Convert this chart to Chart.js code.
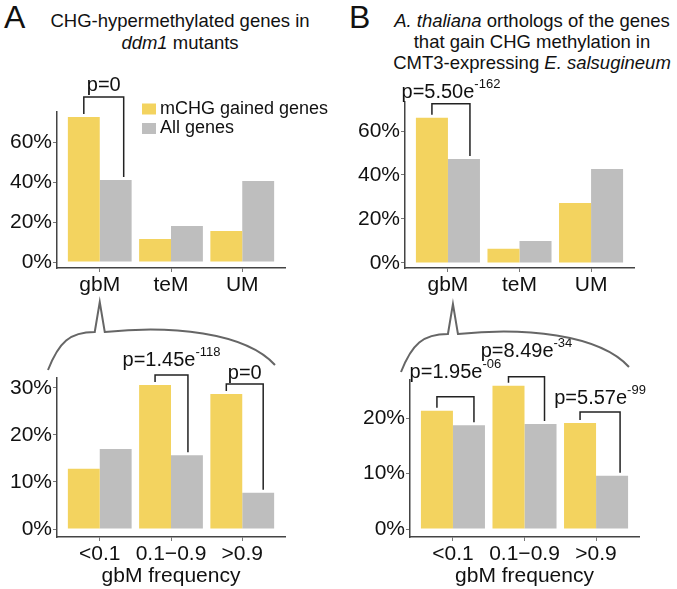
<!DOCTYPE html>
<html>
<head>
<meta charset="utf-8">
<script src="https://cdn.jsdelivr.net/npm/chart.js@4.4.1/dist/chart.umd.min.js"></script>
<style>
  body { margin: 0; background: #fff; font-family: "Liberation Sans", Arial, sans-serif; }
  #wrap { position: relative; width: 677px; height: 589px; overflow: hidden; }
  canvas { position: absolute; }
  .letter { position: absolute; font-size: 32px; line-height: 32px; color: #111; }
  .title { position: absolute; width: 300px; text-align: center; font-size: 18.5px; color: #111; }
</style>
</head>
<body>
<div id="wrap">
  <div class="letter" style="left:4px; top:1px;">A</div>
  <div class="letter" style="left:349px; top:1px;">B</div>
  <div class="title" style="left:30px; top:10px; line-height:22px;">CHG-hypermethylated genes in<br><i>ddm1</i> mutants</div>
  <div class="title" style="left:382px; top:10px; line-height:21px; width:300px;"><i>A. thaliana</i> orthologs of the genes<br>that gain CHG methylation in<br>CMT3-expressing <i>E. salsugineum</i></div>
  <canvas id="aTop" width="337" height="230" style="left:0; top:70px;"></canvas>
  <canvas id="bTop" width="337" height="230" style="left:340px; top:70px;"></canvas>
  <canvas id="aBot" width="300" height="294" style="left:0; top:295px;"></canvas>
  <canvas id="bBot" width="337" height="294" style="left:340px; top:295px;"></canvas>
</div>
<script>
// categories
const methCats = ["gbM", "teM", "UM"];
const freqCats = ["<0.1", "0.1\u22120.9", ">0.9"];
const seriesNames = ["mCHG gained genes", "All genes"];

// A: ddm1 mutants (percent)
const ddm1Gained = [72.5, 11.5, 15.5];
const ddm1All = [41.0, 18.0, 40.5];
const ddm1FreqGained = [12.8, 30.6, 28.7];
const ddm1FreqAll = [17.0, 15.7, 7.7];

// B: CMT3-expressing E. salsugineum orthologs (percent)
const esalGained = [66.0, 6.4, 27.3];
const esalAll = [47.3, 10.0, 42.7];
const esalFreqGained = [21.3, 25.8, 19.1];
const esalFreqAll = [18.7, 18.9, 9.6];

// tick labels
const topTicks = [0, 20, 40, 60];
const ddm1FreqTicks = [0, 10, 20, 30];
const esalFreqTicks = [0, 10, 20];

// p-values: [category index, text, superscript]
const ddm1P = [[0, "p=0", ""]];
const ddm1FreqP = [[1, "p=1.45e", "-118"], [2, "p=0", ""]];
const esalP = [[0, "p=5.50e", "-162"]];
const esalFreqP = [[0, "p=1.95e", "-06"], [1, "p=8.49e", "-34"], [2, "p=5.57e", "-99"]];

const YELLOW = "#F3D35F";
const GREY = "#BEBEBE";
const FONT = "'Liberation Sans', Arial, sans-serif";

function drawP(ctx, base, sup, cx, cy) {
    ctx.save();
    ctx.fillStyle = "#111";
    ctx.textBaseline = "middle";
    ctx.textAlign = "left";
    ctx.font = "20px " + FONT;
    const wb = ctx.measureText(base).width;
    ctx.font = "13px " + FONT;
    const ws = sup ? ctx.measureText(sup).width : 0;
    const x0 = cx - (wb + ws) / 2;
    ctx.font = "20px " + FONT;
    ctx.fillText(base, x0, cy);
    if (sup) {
        ctx.font = "13px " + FONT;
        ctx.fillText(sup, x0 + wb, cy - 8);
    }
    ctx.restore();
}

// bracket styling per panel (px)
const bracketStyle = {
    aTop: [{ gap: 20, textGap: 12, shift: 8 }],
    aBot: [{ gap: 10, textGap: 15, shift: 1 }, { gap: 10, textGap: 11, shift: 5 }],
    bTop: [{ gap: 14, textGap: 11, shift: 6 }],
    bBot: [{ gap: 14, textGap: 24, shift: 5 }, { gap: 9, textGap: 25, shift: 4 }, { gap: 11, textGap: 14, shift: 8 }]
};

const bracketPlugin = {
    id: "brackets",
    afterDatasetsDraw(chart, args, opts) {
        const ctx = chart.ctx;
        const m0 = chart.getDatasetMeta(0).data;
        const m1 = chart.getDatasetMeta(1).data;
        (opts.list || []).forEach((p, k) => {
            const st = opts.style[k];
            const i = p[0];
            const xl = m0[i].x, xr = m1[i].x + st.shift;
            const top = m0[i].y - st.gap;
            ctx.save();
            ctx.strokeStyle = "#222";
            ctx.lineWidth = 1.5;
            ctx.beginPath();
            ctx.moveTo(xl, m0[i].y - 3);
            ctx.lineTo(xl, top);
            ctx.lineTo(xr, top);
            ctx.lineTo(xr, m1[i].y - 3);
            ctx.stroke();
            ctx.restore();
            drawP(ctx, p[1], p[2], (xl + xr) / 2, top - st.textGap);
        });
    }
};

const bracePlugin = {
    id: "brace",
    afterDraw(chart, args, opts) {
        if (!opts.show) return;
        const ctx = chart.ctx;
        const a = chart.chartArea;
        const px = chart.scales.x.getPixelForValue(0);
        const L = a.left, R = a.right, T = a.top;
        ctx.save();
        ctx.strokeStyle = "#666";
        ctx.lineWidth = 2;
        ctx.beginPath();
        ctx.moveTo(L - 9, T - 8);
        ctx.bezierCurveTo(L + 2, T - 36, px - 30, T - 46, px - 5, T - 46);
        ctx.lineTo(px, T - 76);
        ctx.lineTo(px + 5, T - 46);
        ctx.bezierCurveTo(px + 70, T - 53, R - 40, T - 46, R - 10, T - 13);
        ctx.stroke();
        ctx.restore();
    }
};

const legendPlugin = {
    id: "boxLegend",
    afterDraw(chart, args, opts) {
        if (!opts.show) return;
        const ctx = chart.ctx;
        const ds = chart.data.datasets;
        ctx.save();
        ctx.font = "18px " + FONT;
        ctx.textBaseline = "middle";
        ds.forEach((d, k) => {
            const y = opts.y + k * 19.5;
            ctx.fillStyle = d.backgroundColor;
            ctx.fillRect(opts.x, y - 5.5, 14, 11);
            ctx.fillStyle = "#111";
            ctx.fillText(d.label, opts.x + 18, y);
        });
        ctx.restore();
    }
};

function makePanel(id, box, area, cats, gained, all, ticks, yMin, yMax, pList, extra) {
    const tickFont = { family: FONT, size: 21 };
    new Chart(document.getElementById(id), {
        type: "bar",
        data: {
            datasets: [
                { label: seriesNames[0], data: gained.map((v, i) => ({ x: i, y: v })), backgroundColor: YELLOW },
                { label: seriesNames[1], data: all.map((v, i) => ({ x: i, y: v })), backgroundColor: GREY }
            ]
        },
        options: {
            responsive: false,
            animation: false,
            devicePixelRatio: 1,
            categoryPercentage: 0.895,
            barPercentage: 1.0,
            layout: { padding: { left: 0, top: area.top - box.top, right: box.left + box.w - area.right, bottom: 0 } },
            plugins: {
                legend: { display: false },
                tooltip: { enabled: false },
                brackets: { list: pList, style: bracketStyle[id] },
                brace: { show: !!extra.brace },
                boxLegend: { show: !!extra.legend, x: 142, y: 39 }
            },
            scales: {
                x: {
                    type: "linear",
                    offset: false,
                    min: -0.6,
                    max: 2.6,
                    afterBuildTicks: (s) => { s.ticks = cats.map((c, i) => ({ value: i })); },
                    afterFit: (s) => { s.height = box.top + box.h - area.bottom; },
                    ticks: { callback: (v) => cats[v], font: tickFont, color: "#111", padding: 1, autoSkip: false, maxRotation: 0 },
                    grid: { display: true, offset: false, drawOnChartArea: false, drawTicks: true, tickLength: 4, color: "#777", lineWidth: 1 },
                    border: { display: true, color: "#444", width: 1.5 },
                    title: { display: !!extra.xTitle, text: extra.xTitle || "", font: tickFont, color: "#111", padding: { top: 0, bottom: 0 } }
                },
                y: {
                    min: yMin,
                    max: yMax,
                    afterBuildTicks: (s) => { s.ticks = ticks.map((v) => ({ value: v })); },
                    afterFit: (s) => { s.width = area.left - box.left; },
                    ticks: { callback: (v) => v + "%", font: tickFont, color: "#111", padding: 1 },
                    grid: { display: true, drawOnChartArea: false, drawTicks: true, tickLength: 4, color: "#777", lineWidth: 1 },
                    border: { display: true, color: "#444", width: 1.5 }
                }
            }
        },
        plugins: [bracketPlugin, bracePlugin, legendPlugin]
    });
}

makePanel("aTop", { left: 0, top: 70, w: 337, h: 230 }, { left: 57, top: 112, right: 285, bottom: 268 },
    methCats, ddm1Gained, ddm1All, topTicks, -3, 75, ddm1P, { legend: true });
makePanel("bTop", { left: 340, top: 70, w: 337, h: 230 }, { left: 405, top: 102, right: 634, bottom: 268 },
    methCats, esalGained, esalAll, topTicks, -2.3, 73.2, esalP, {});
makePanel("aBot", { left: 0, top: 295, w: 300, h: 294 }, { left: 57, top: 378, right: 285, bottom: 537 },
    freqCats, ddm1FreqGained, ddm1FreqAll, ddm1FreqTicks, -1.7, 32.1, ddm1FreqP, { brace: true, xTitle: "gbM frequency" });
makePanel("bBot", { left: 340, top: 295, w: 337, h: 294 }, { left: 410, top: 380, right: 639, bottom: 537 },
    freqCats, esalFreqGained, esalFreqAll, esalFreqTicks, -1.44, 26.85, esalFreqP, { brace: true, xTitle: "gbM frequency" });
</script>
</body>
</html>
